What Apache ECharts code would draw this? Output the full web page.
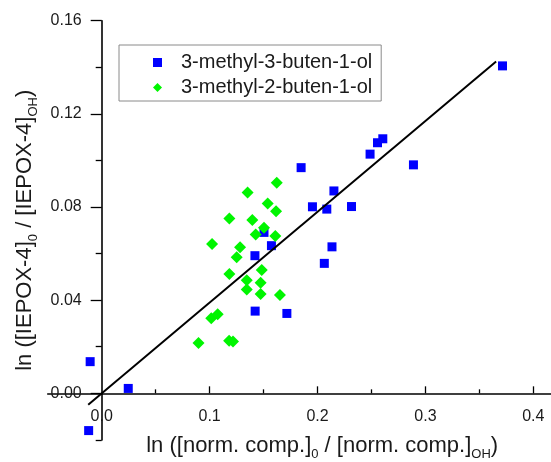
<!DOCTYPE html>
<html>
<head>
<meta charset="utf-8">
<script src="https://cdn.jsdelivr.net/npm/echarts@6/dist/echarts.min.js"></script>
<style>
html,body{margin:0;padding:0;background:#fff;}
#chart{width:551px;height:462px;}
</style>
</head>
<body>
<div id="chart"></div>
<script>
// ---- data ----
const seriesNames = ['3-methyl-3-buten-1-ol', '3-methyl-2-buten-1-ol'];

const blueX = [0.3714, 0.2605, 0.2556, 0.2487, 0.2889, 0.1848, 0.2152, 0.1953, 0.2086, 0.2315, 0.2134, 0.2063, 0.1504, 0.1573, 0.1420, 0.1422, 0.1716, -0.0107, 0.0246, -0.0121];
const blueY = [0.1406, 0.1093, 0.1076, 0.1027, 0.0981, 0.0969, 0.0869, 0.0801, 0.0791, 0.0802, 0.0629, 0.0558, 0.0691, 0.0634, 0.0591, 0.0353, 0.0343, 0.0136, 0.0021, -0.0160];

const greenX = [0.1622, 0.1352, 0.1538, 0.1616, 0.1183, 0.1396, 0.1504, 0.1427, 0.1609, 0.1023, 0.1282, 0.1251, 0.1483, 0.1183, 0.1344, 0.1473, 0.1344, 0.1473, 0.1652, 0.1015, 0.1075, 0.0897, 0.1181, 0.1217];
const greenY = [0.0904, 0.0862, 0.0815, 0.0782, 0.0751, 0.0744, 0.0711, 0.0682, 0.0675, 0.0641, 0.0627, 0.0584, 0.0529, 0.0512, 0.0486, 0.0475, 0.0446, 0.0426, 0.0422, 0.0322, 0.0340, 0.0216, 0.0226, 0.0222];

const fitX = [-0.0125, 0.3655];
const fitY = [-0.0049, 0.1425];

const xMajorTicks = [0, 0.1, 0.2, 0.3, 0.4];
const xMinorTicks = [0.05, 0.15, 0.25, 0.35];
const yMajorTicks = [0, 0.04, 0.08, 0.12, 0.16];
const yMinorTicks = [-0.02, 0.02, 0.06, 0.10, 0.14];

const xTitle = 'ln ([norm. comp.]{sub|0} / [norm. comp.]{sub|OH})';
const yTitle = 'ln ([IEPOX-4]{sub|0} / [IEPOX-4]{sub|OH})';

// ---- chart ----
const zip = (a, b) => a.map((v, i) => [v, b[i]]);
const FONT = '"Liberation Sans", Arial, sans-serif';
const XMIN = -0.05, XMAX = 0.416, YMIN = -0.02, YMAX = 0.16;

const subStyle = {fontSize: 13, fontFamily: FONT, color: '#1a1a1a', verticalAlign: 'bottom', lineHeight: 13, padding: [0, 0, -4, 0]};

const chart = echarts.init(document.getElementById('chart'), null, {renderer: 'canvas'});
chart.setOption({
  animation: false,
  backgroundColor: '#ffffff',
  grid: {left: 47.75, right: 0.4, top: 20.7, bottom: 22.1, containLabel: false, outerBoundsMode: 'none'},
  legend: {
    orient: 'vertical',
    left: 119, top: 45,
    padding: [5, 9, 1, 34],
    itemGap: 0,
    itemWidth: 9, itemHeight: 9,
    borderColor: '#8a8a8a', borderWidth: 1,
    textStyle: {fontFamily: FONT, fontSize: 20, color: '#1a1a1a', lineHeight: 25, padding: [0, 0, 0, 14]},
    data: [{name: seriesNames[0], icon: 'rect'}, {name: seriesNames[1], icon: 'diamond'}]
  },
  xAxis: [{
    type: 'value', min: XMIN, max: XMAX,
    axisLine: {onZero: true, onZeroAxisIndex: 0, lineStyle: {color: '#000', width: 1.6}},
    axisTick: {show: true, inside: true, length: 7, customValues: xMajorTicks.filter(v => v !== 0), lineStyle: {color: '#000', width: 1.3}},
    axisLabel: {customValues: xMajorTicks, margin: -31.5, fontFamily: FONT, fontSize: 16, color: '#1a1a1a',
      formatter: v => v.toFixed(1)},
    splitLine: {show: false},
    name: xTitle, nameLocation: 'middle', nameGap: -5,
    nameTextStyle: {fontFamily: FONT, fontSize: 22, color: '#1a1a1a', padding: [0, 0, 0, 46], rich: {sub: subStyle}}
  }, {
    type: 'value', min: XMIN, max: XMAX, position: 'bottom',
    axisLine: {show: false, onZero: true, onZeroAxisIndex: 0},
    axisTick: {show: true, inside: true, length: 4, customValues: xMinorTicks, lineStyle: {color: '#000', width: 1.3}},
    axisLabel: {show: false},
    splitLine: {show: false}
  }],
  yAxis: [{
    type: 'value', min: YMIN, max: YMAX,
    axisLine: {onZero: true, onZeroAxisIndex: 0, lineStyle: {color: '#000', width: 1.6}},
    axisTick: {show: true, inside: false, length: 11, customValues: yMajorTicks, lineStyle: {color: '#000', width: 1.3}},
    axisLabel: {customValues: yMajorTicks, margin: -34, fontFamily: FONT, fontSize: 16, color: '#1a1a1a',
      formatter: v => v.toFixed(2)},
    splitLine: {show: false},
    name: yTitle, nameLocation: 'middle', nameRotate: 90, nameGap: 8,
    nameTextStyle: {fontFamily: FONT, fontSize: 22, color: '#1a1a1a', rich: {sub: subStyle}}
  }, {
    type: 'value', min: YMIN, max: YMAX, position: 'left',
    axisLine: {show: false, onZero: true, onZeroAxisIndex: 0},
    axisTick: {show: true, inside: false, length: 6, customValues: yMinorTicks, lineStyle: {color: '#000', width: 1.3}},
    axisLabel: {show: false},
    splitLine: {show: false}
  }],
  series: [{
    name: seriesNames[0], type: 'scatter', xAxisIndex: 0, yAxisIndex: 0,
    symbol: 'rect', symbolSize: 9,
    itemStyle: {color: '#0000ff', opacity: 1},
    data: zip(blueX, blueY), z: 2
  }, {
    name: seriesNames[1], type: 'scatter', xAxisIndex: 0, yAxisIndex: 0,
    symbol: 'diamond', symbolSize: 12,
    itemStyle: {color: '#00f500', opacity: 1},
    data: zip(greenX, greenY), z: 3
  }, {
    name: 'fit', type: 'line', xAxisIndex: 0, yAxisIndex: 0,
    symbol: 'none', lineStyle: {color: '#000', width: 2},
    data: zip(fitX, fitY), z: 4, silent: true
  }]
});
</script>
</body>
</html>
